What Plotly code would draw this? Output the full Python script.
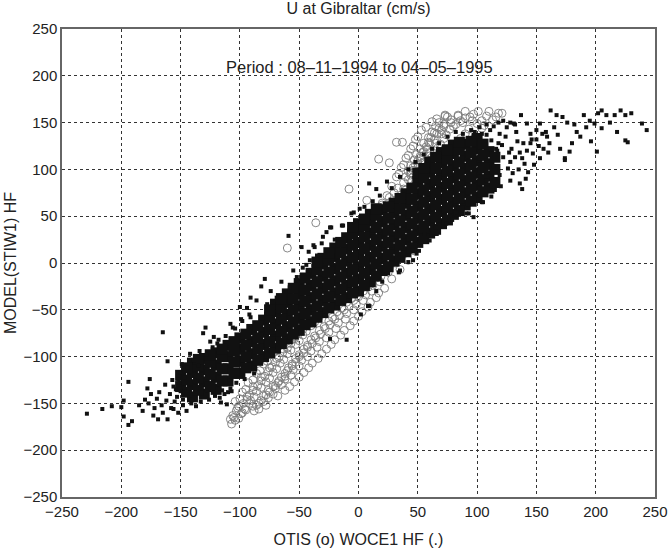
import plotly.graph_objects as go

otis_band = [
    (-107, -172), (-104, -168), (-106, -163),
    (-103, -158), (-99, -161), (-96, -156), (-101, -153),
    (-104, -148), (-97, -150), (-91, -147), (-86, -152), (-94, -143),
    (-98, -138), (-92, -141), (-86, -137), (-80, -142), (-76, -136), (-89, -132),
    (-93, -128), (-85, -131), (-78, -127), (-72, -132), (-67, -126), (-82, -122),
    (-86, -118), (-79, -121), (-72, -117), (-65, -122), (-60, -115), (-75, -112),
    (-80, -108), (-73, -111), (-66, -107), (-59, -112), (-53, -106), (-69, -102),
    (-74, -98), (-67, -101), (-60, -97), (-53, -102), (-46, -96), (-63, -92),
    (-68, -88), (-60, -91), (-53, -87), (-46, -92), (-39, -86), (-56, -82),
    (-62, -78), (-54, -81), (-47, -77), (-40, -82), (-32, -76), (-50, -72),
    (-55, -68), (-47, -71), (-40, -67), (-33, -72), (-24, -66), (-43, -62),
    (-48, -58), (-40, -61), (-33, -57), (-25, -62), (-16, -56), (-36, -52),
    (-42, -48), (-34, -51), (-26, -47), (-18, -52), (-8, -46), (-29, -42),
    (-35, -38), (-27, -41), (-19, -37), (-10, -42), (0, -36), (-22, -32),
    (-28, -28), (-20, -31), (-11, -27), (-2, -32), (8, -26), (-15, -22),
    (-22, -18), (-13, -21), (-4, -17), (5, -22), (15, -16), (-8, -12),
    (-15, -8), (-6, -11), (3, -7), (12, -12), (22, -6), (0, -2),
    (-8, 2), (1, -1), (10, 3), (19, -2), (29, 4), (6, 8),
    (-3, 12), (6, 9), (15, 13), (24, 8), (34, 14), (11, 18),
    (2, 22), (11, 19), (20, 23), (29, 18), (40, 24), (16, 28),
    (7, 32), (16, 29), (25, 33), (34, 28), (46, 34), (21, 38),
    (12, 42), (21, 39), (30, 43), (40, 38), (52, 44), (26, 48),
    (16, 52), (26, 49), (35, 53), (45, 48), (58, 54), (31, 58),
    (20, 62), (30, 59), (40, 63), (50, 58), (62, 64), (36, 68),
    (24, 72), (34, 69), (44, 73), (55, 68), (66, 74), (40, 78),
    (28, 82), (38, 79), (48, 83), (58, 78), (70, 84), (45, 88),
    (32, 92), (42, 89), (53, 93), (63, 88), (74, 94), (50, 98),
    (36, 102), (46, 99), (57, 103), (68, 98), (80, 104), (55, 108),
    (40, 112), (50, 109), (62, 113), (73, 108), (86, 114), (60, 118),
    (44, 122), (55, 119), (67, 123), (78, 118), (92, 124), (65, 128),
    (48, 132), (59, 129), (72, 133), (84, 128), (98, 134), (70, 138),
    (53, 142), (64, 139), (77, 143), (90, 138), (104, 144), (82, 148),
    (62, 151), (72, 148), (86, 152), (100, 149), (113, 153), (94, 156),
    (73, 158), (84, 157), (97, 159), (108, 157), (118, 160),
]
# in-between rows where the circle cloud shows clearly (bottom and top ends)
otis_band2 = [
    (-105, -165), (-101, -166), (-98, -160),
    (-102, -155), (-95, -157), (-89, -153), (-84, -156),
    (-100, -145), (-94, -146), (-88, -143), (-82, -147), (-78, -141),
    (-95, -135), (-89, -136), (-82, -133), (-75, -138), (-70, -131),
    (-89, -125), (-82, -126), (-75, -123), (-68, -128), (-62, -121),
    (-83, -115), (-76, -116), (-69, -113), (-62, -118), (-56, -110),
    (-77, -105), (-70, -106), (-63, -103), (-56, -108), (-50, -100),
    (-71, -95), (-64, -96), (-57, -93), (-50, -98), (-43, -90),
    (-65, -85), (-57, -86), (-50, -83), (-43, -88), (-36, -80),
    (-58, -75), (-51, -76), (-44, -73), (-37, -78), (-28, -70),
    (-52, -65), (-44, -66), (-37, -63), (-29, -68), (-20, -60),
    (-45, -55), (-37, -56), (-30, -53), (-22, -58), (-12, -50),
    (-38, -45), (-30, -46), (-22, -43), (-14, -48), (-4, -40),
    (-31, -35), (-23, -36), (-15, -33), (-6, -38), (4, -30),
    (34, 95), (44, 94), (55, 97),
    (38, 105), (48, 104), (60, 107),
    (42, 115), (52, 114), (64, 117),
    (46, 125), (57, 124), (69, 127), (80, 123),
    (50, 135), (61, 134), (74, 137), (86, 133),
    (57, 145), (68, 144), (80, 146), (93, 143), (106, 147),
    (66, 154), (78, 153), (90, 155), (104, 152), (116, 156),
    (20, 64), (26, 70), (30, 75), (33, 80), (38, 86), (40, 92), (44, 96),
    (46, 102), (50, 106), (52, 112), (54, 118), (58, 122), (60, 128),
    (64, 132), (66, 138), (70, 142), (72, 146), (78, 150), (88, 150),
    (96, 152),
]
# lower right side of the circle cloud, which sticks out beyond the dots
otis_band3 = [
    (-84, -150), (-80, -148), (-76, -144), (-72, -140),
    (-70, -134), (-65, -130), (-62, -136),
    (-62, -124), (-57, -120), (-54, -127),
    (-55, -114), (-50, -110), (-46, -117),
    (-48, -104), (-43, -100), (-39, -107),
    (-40, -94), (-35, -90), (-31, -97),
    (-33, -84), (-27, -80), (-23, -87),
    (-25, -74), (-19, -70), (-15, -77),
    (-17, -64), (-11, -60), (-7, -67),
    (-10, -54), (-4, -50), (0, -57),
    (-2, -44), (4, -40), (8, -47),
    (6, -34), (11, -30), (15, -37),
    (12, -24), (18, -20), (22, -27),
    (19, -14), (25, -10), (28, -17),
    (26, -4), (31, 0), (35, -7),
    (33, 6), (38, 10), (42, 3),
    (39, 16), (44, 20), (47, 13),
    (45, 26), (49, 30),
    (-88, -158), (-92, -150), (-78, -152), (-68, -142), (-58, -132),
    (-50, -122), (-42, -112), (-34, -102), (-27, -92), (-20, -82),
    (-12, -72), (-4, -62), (3, -52), (10, -42), (17, -32),
    (44, 104), (49, 116), (55, 128), (62, 140), (68, 150),
    (42, 98), (47, 110), (52, 122), (59, 134), (65, 146), (75, 156),
]
otis_outliers = [
    (-36, 43), (-8, 79), (7, 67), (17, 111), (26, 107), (32, 129), (37, 129),
    (-16, 20), (-60, 16), (90, 162), (101, 162), (110, 162), (121, 160),
    (73, 157), (84, 158), (-108, -167),
]

# WOCE1 observations vs model (black dots): dense core of the cloud
woce_core = [
    (-150, -132), (-150, -120),
    (-140, -143), (-140, -130), (-140, -117), (-140, -107),
    (-130, -140), (-130, -127), (-130, -114), (-130, -102),
    (-120, -135), (-120, -122), (-120, -109), (-120, -96),
    (-110, -126), (-110, -113), (-110, -100), (-110, -88),
    (-100, -118), (-100, -105), (-100, -92), (-100, -80),
    (-90, -110), (-90, -97), (-90, -84), (-90, -71),
    (-80, -100), (-80, -87), (-80, -74), (-80, -61),
    (-70, -91), (-70, -78), (-70, -65), (-70, -52), (-70, -44),
    (-60, -81), (-60, -68), (-60, -55), (-60, -42), (-60, -33),
    (-50, -72), (-50, -59), (-50, -46), (-50, -33), (-50, -22),
    (-40, -63), (-40, -50), (-40, -37), (-40, -24), (-40, -11),
    (-30, -53), (-30, -40), (-30, -27), (-30, -14), (-30, -1), (-30, 5),
    (-20, -45), (-20, -32), (-20, -19), (-20, -6), (-20, 7), (-20, 16),
    (-10, -37), (-10, -24), (-10, -11), (-10, 2), (-10, 15), (-10, 27),
    (0, -30), (0, -17), (0, -4), (0, 9), (0, 22), (0, 35), (0, 42),
    (10, -20), (10, -7), (10, 6), (10, 19), (10, 32), (10, 45), (10, 52),
    (20, -8), (20, 5), (20, 18), (20, 31), (20, 44), (20, 57),
    (30, 2), (30, 15), (30, 28), (30, 41), (30, 54), (30, 64),
    (40, 12), (40, 25), (40, 38), (40, 51), (40, 64), (40, 74),
    (50, 22), (50, 35), (50, 48), (50, 61), (50, 74), (50, 87), (50, 96),
    (60, 32), (60, 45), (60, 58), (60, 71), (60, 84), (60, 97), (60, 108),
    (70, 42), (70, 55), (70, 68), (70, 81), (70, 94), (70, 107), (70, 118),
    (80, 52), (80, 65), (80, 78), (80, 91), (80, 104), (80, 117), (80, 126),
    (90, 62), (90, 75), (90, 88), (90, 101), (90, 114), (90, 127),
    (100, 70), (100, 83), (100, 96), (100, 109), (100, 122), (100, 133),
    (110, 80), (110, 93), (110, 106), (110, 119),
]
# staggered columns that fill the gaps of the core
woce_core2 = [
    (-145, -138), (-145, -125), (-145, -112),
    (-135, -136), (-135, -123), (-135, -110), (-135, -103),
    (-125, -132), (-125, -119), (-125, -106), (-125, -98),
    (-115, -126), (-115, -113), (-115, -100), (-115, -92),
    (-105, -118), (-105, -106), (-105, -94), (-105, -84),
    (-95, -112), (-95, -100), (-95, -88), (-95, -76),
    (-85, -104), (-85, -92), (-85, -80), (-85, -67),
    (-75, -96), (-75, -84), (-75, -71), (-75, -58), (-75, -50),
    (-65, -86), (-65, -73), (-65, -60), (-65, -48), (-65, -38),
    (-55, -76), (-55, -63), (-55, -50), (-55, -38), (-55, -27),
    (-45, -66), (-45, -54), (-45, -41), (-45, -29), (-45, -16),
    (-35, -58), (-35, -46), (-35, -33), (-35, -20), (-35, -7), (-35, 1),
    (-25, -48), (-25, -36), (-25, -23), (-25, -10), (-25, 3), (-25, 11),
    (-15, -40), (-15, -28), (-15, -15), (-15, -2), (-15, 11), (-15, 22),
    (-5, -32), (-5, -20), (-5, -7), (-5, 6), (-5, 19), (-5, 31), (-5, 38),
    (5, -24), (5, -11), (5, 2), (5, 15), (5, 28), (5, 40), (5, 47),
    (15, -14), (15, -1), (15, 12), (15, 25), (15, 38), (15, 51), (15, 58),
    (25, -4), (25, 9), (25, 22), (25, 35), (25, 48), (25, 60),
    (35, 6), (35, 19), (35, 32), (35, 45), (35, 58), (35, 69),
    (45, 16), (45, 29), (45, 42), (45, 55), (45, 68), (45, 80),
    (55, 26), (55, 39), (55, 52), (55, 65), (55, 78), (55, 91), (55, 101),
    (65, 36), (65, 49), (65, 62), (65, 75), (65, 88), (65, 101), (65, 113),
    (75, 46), (75, 59), (75, 72), (75, 85), (75, 98), (75, 111), (75, 121),
    (85, 56), (85, 69), (85, 82), (85, 95), (85, 108), (85, 121), (85, 129),
    (95, 66), (95, 79), (95, 92), (95, 105), (95, 118), (95, 130),
    (105, 76), (105, 89), (105, 102), (105, 115), (105, 127),
    (115, 86), (115, 100), (115, 113),
]

# WOCE1 black dots: scattered points around the core and the two tails
woce_scatter = [
    (-229, -161), (-216, -156), (-208, -153), (-200, -154), (-198, -147),
    (-198, -164), (-194, -127), (-194, -173), (-191, -169), (-165, -74),
    (-161, -105), (-178, -134), (-176, -124), (-173, -163), (-169, -167),
    (-161, -167), (-156, -156), (-150, -117), (-149, -108), (-142, -97),
    (-134, -94), (-131, -75), (-129, -69), (-123, -90), (-117, -144),
    (-115, -136), (-108, -134), (-108, -65), (-106, -69), (-100, -47),
    (-94, -48), (-185, -152), (-182, -158), (-180, -146), (-177, -150),
    (-175, -140), (-172, -155), (-170, -145), (-168, -138), (-166, -152),
    (-165, -160), (-163, -130), (-162, -147), (-159, -140), (-158, -155),
    (-157, -125), (-155, -148), (-154, -135), (-152, -160), (-151, -128),
    (-148, -152), (-147, -122), (-145, -158), (-144, -112), (-141, -150),
    (-139, -104), (-137, -153), (-135, -110), (-133, -148), (-128, -98),
    (-126, -146), (-125, -84), (-121, -142), (-119, -86), (-113, -140),
    (-112, -78), (-110, -138), (-104, -70), (-103, -128), (-98, -62),
    (-96, -124), (-92, -55), (-88, -118), (-153, -143), (-150, -137),
    (-148, -146), (-156, -132), (-152, -124), (-147, -133),
    (-122, -79), (-118, -82), (-99, -60), (-91, -58), (-91, -37), (-82, -25),
    (-79, -17), (-77, -44), (-69, -37), (-59, 29), (-58, -26), (-52, -15),
    (-47, -5), (-41, 3), (-48, 17), (-42, 12), (-37, 17), (-31, 21),
    (-27, 33), (-24, 38), (-23, 38), (-14, 40), (-13, 40), (-6, 53), (-4, 54),
    (1, 58), (9, 85), (15, 79), (24, 87), (-30, 28), (-38, 19), (-86, -40),
    (-74, -30), (-65, -20), (-55, -8), (-44, -2), (-35, 8), (-20, 25),
    (-10, 30), (-2, 45), (5, 60), (12, 66), (18, 72), (28, 80), (35, 92),
    (42, 100), (48, 108), (55, 116), (62, 122), (68, 128),
    (-116, -149), (-107, -137), (-111, -151), (-24, -81), (-10, -82),
    (8, -46), (9, -46), (25, -11), (35, -8), (46, 3), (49, 10), (60, 24),
    (66, 31), (74, 42), (83, 54), (91, 53), (97, 49), (93, 53), (104, 65),
    (105, 65), (112, 71), (138, 79), (136, 85), (84, 58), (79, 46), (65, 38),
    (56, 31), (51, 13), (42, 1), (34, -10), (20, -20), (15, -30), (2, -55),
    (75, 135), (82, 140), (88, 138), (95, 142), (102, 145), (108, 148),
    (114, 146), (118, 150), (122, 152), (128, 150), (132, 148), (125, 145),
    (119, 138), (116, 122), (114, 103), (108, 88), (119, 94), (126, 101),
    (122, 113), (129, 122), (130, 96), (132, 113), (137, 158), (139, 128),
    (140, 106), (143, 97), (145, 138), (147, 117), (150, 142), (153, 112),
    (153, 149), (156, 122), (159, 135), (161, 128), (162, 163), (167, 158),
    (168, 137), (170, 122), (172, 156), (174, 112), (174, 110), (178, 119),
    (180, 128), (184, 140), (187, 135), (190, 158), (192, 145), (196, 130),
    (199, 149), (201, 119), (202, 160), (205, 163), (205, 144), (209, 158),
    (216, 158), (218, 140), (221, 163), (225, 158), (225, 131), (227, 129),
    (230, 160), (239, 149), (243, 142), (142, 149), (131, 149), (136, 118),
    (145, 128), (150, 132), (158, 140), (165, 145), (176, 150), (182, 148),
    (195, 152), (212, 150), (160, 118), (148, 105), (141, 90), (135, 100),
    (128, 88), (120, 82), (115, 78), (118, 128), (124, 135), (128, 108),
    (133, 140), (138, 112), (142, 120), (146, 132), (152, 125), (155, 138),
    (134, 130), (127, 118), (112, 131), (108, 137), (117, 120), (121, 126),
    (98, 140), (104, 138), (111, 142),
]

ticks = [-250, -200, -150, -100, -50, 0, 50, 100, 150, 200, 250]
title = "U at Gibraltar (cm/s)"
period = "Period : 08\u201311\u20131994 to 04\u201305\u20131995"
xlabel = "OTIS (o) WOCE1 HF (.)"
ylabel = "MODEL(STIW1) HF"
tick_text = [str(t).replace("-", "\u2212") for t in ticks]

otis = otis_band + otis_band2 + otis_band3 + otis_outliers
core = woce_core + woce_core2

fig = go.Figure()
fig.add_trace(go.Scatter(
    x=[p[0] for p in otis], y=[p[1] for p in otis], mode="markers",
    marker=dict(symbol="circle-open", size=8, color="#7a7a7a",
                line=dict(width=0.9, color="#7a7a7a")),
    showlegend=False, hoverinfo="skip"))
fig.add_trace(go.Scatter(
    x=[p[0] for p in core], y=[p[1] for p in core], mode="markers",
    marker=dict(symbol="square", size=11, color="#111111", line=dict(width=0)),
    showlegend=False, hoverinfo="skip"))
fig.add_trace(go.Scatter(
    x=[p[0] for p in woce_scatter], y=[p[1] for p in woce_scatter], mode="markers",
    marker=dict(symbol="square", size=4, color="#111111", line=dict(width=0)),
    showlegend=False, hoverinfo="skip"))

axis = dict(range=[-250, 250], tickvals=ticks, ticktext=tick_text,
            showgrid=True, gridcolor="#333333", griddash="dot", gridwidth=1,
            zeroline=False, showline=True, linecolor="#666666", linewidth=1.5,
            mirror=True, ticks="", automargin=False,
            tickfont=dict(size=15, color="#222222"))

fig.update_layout(
    width=669, height=552,
    margin=dict(l=62, r=14, t=29, b=55),
    paper_bgcolor="white", plot_bgcolor="white",
    font=dict(family="Liberation Sans, Arial, sans-serif", color="#222222"),
    title=dict(text=title, x=0.536, xanchor="center", y=0.9855, yanchor="middle",
               font=dict(size=16)),
    xaxis=dict(axis, title=dict(text=xlabel, font=dict(size=16), standoff=15)),
    yaxis=dict(axis, title=dict(text=ylabel, font=dict(size=16), standoff=3)),
    annotations=[dict(text=period, x=0.5, y=209, xref="x", yref="y",
                      showarrow=False, font=dict(size=16.5))],
)

# the page body has a default 8px margin; remove it so the figure sits at 0,0
fig.write_html("out.html", config={"displayModeBar": False},
               post_script="document.body.style.margin='0';")
